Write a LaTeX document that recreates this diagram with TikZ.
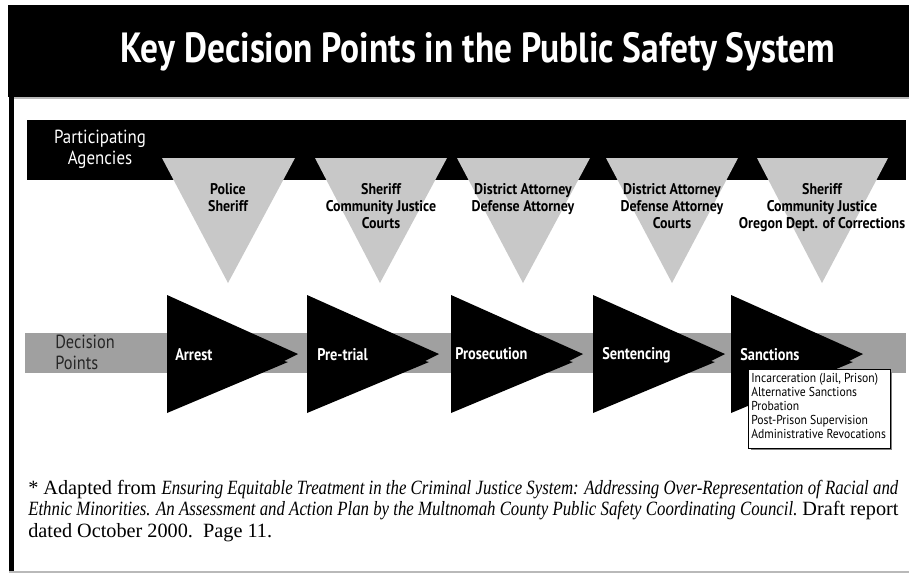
\documentclass[tikz,border=0pt]{standalone}
\usepackage{fontspec}
\usepackage{graphicx}
\setmainfont{Liberation Serif}
\newfontfamily\labelfont{PT Sans}
\usetikzlibrary{positioning}
\definecolor{agencygray}{RGB}{200,200,200}
\definecolor{bandgray}{RGB}{160,160,160}
\definecolor{framegray}{RGB}{185,185,185}
\newcommand{\squeezec}[2]{\scalebox{#1}[1]{\begin{tabular}{@{}c@{}}#2\end{tabular}}}
\newcommand{\squeezel}[2]{\scalebox{#1}[1]{\begin{tabular}{@{}l@{}}#2\end{tabular}}}
\newcommand{\condit}[1]{\scalebox{0.83}[1]{\itshape #1}}
\tikzset{
  agency/.style={fill=agencygray},
  decision/.style={fill=black},
  agencytext/.style={font=\labelfont\bfseries\fontsize{11}{12.2}\selectfont, anchor=north, inner sep=0pt},
  decisiontext/.style={font=\labelfont\bfseries\fontsize{12}{13}\selectfont, text=white, anchor=west, inner sep=0pt},
  bandtext/.style={font=\labelfont\fontsize{13.5}{14.8}\selectfont, inner sep=0pt},
}
\begin{document}
\begin{tikzpicture}[x=0.025cm,y=-0.025cm]
        \useasboundingbox (0,0) rectangle (909,575);
        % frame and title
        \fill[black] (8,5) rectangle (909,97);
        \draw[framegray, line width=1.2pt] (11,98) -- (909,98);
        \fill[black] (9,97) rectangle (14,572);
        \draw[framegray, line width=1.2pt] (9,572) -- (909,572);
        \node[font=\labelfont\bfseries\fontsize{30}{36}\selectfont, text=white] (title) at (478,52) {\scalebox{0.84}[1]{Key Decision Points in the Public Safety System}};
        % bands
        \fill[black] (27,120) rectangle (906,180);
        \node[bandtext, text=white] (agencies) at (100,150) {\squeezec{0.89}{Participating\\Agencies}};
        \fill[bandgray] (25,333) rectangle (906,373);
        \node[bandtext, anchor=west, text=black!85] (points) at (55,355) {\squeezel{0.86}{Decision\\Points}};
        % agencies
        \fill[agency] (162,158) -- (295,158) -- (228,283) -- cycle;
        \fill[agency] (315,158) -- (447,158) -- (380,283) -- cycle;
        \fill[agency] (457,158) -- (590,158) -- (523,283) -- cycle;
        \fill[agency] (606,158) -- (738,158) -- (672,283) -- cycle;
        \fill[agency] (757,158) -- (888,158) -- (822,283) -- cycle;
        \node[agencytext] (police) at (228,182) {\squeezec{0.9}{Police\\Sheriff}};
        \node[agencytext] (pretrialag) at (381,182) {\squeezec{0.9}{Sheriff\\Community Justice\\Courts}};
        \node[agencytext] (prosag) at (523,182) {\squeezec{0.9}{District Attorney\\Defense Attorney}};
        \node[agencytext] (sentag) at (672,182) {\squeezec{0.9}{District Attorney\\Defense Attorney\\Courts}};
        \node[agencytext] (sancag) at (822,182) {\squeezec{0.9}{Sheriff\\Community Justice\\Oregon Dept. of Corrections}};
        % decision points
        \fill[decision] (167,295) -- (298,354) -- (284,361) -- (288,362) -- (167,413) -- cycle;
        \fill[decision] (307,295) -- (439,354) -- (425,361) -- (429,362) -- (307,413) -- cycle;
        \fill[decision] (451,295) -- (583,354) -- (569,361) -- (573,362) -- (451,413) -- cycle;
        \fill[decision] (593,295) -- (725,354) -- (711,361) -- (715,362) -- (593,413) -- cycle;
        \fill[decision] (731,295) -- (863,354) -- (849,361) -- (853,362) -- (731,413) -- cycle;
        \node[decisiontext] (arrest) at (175,355) {\scalebox{0.85}[1]{Arrest}};
        \node[decisiontext] (pretrial) at (317,355) {\scalebox{0.85}[1]{Pre-trial}};
        \node[decisiontext] (prosecution) at (455,354) {\scalebox{0.85}[1]{Prosecution}};
        \node[decisiontext] (sentencing) at (602,355) {\scalebox{0.85}[1]{Sentencing}};
        \node[decisiontext] (sanctions) at (740,355) {\scalebox{0.85}[1]{Sanctions}};
        % sanctions list
        \fill[gray] (751,372) rectangle (892,450);
        \filldraw[fill=white, draw=black, line width=0.6pt] (748,369) rectangle (890,448);
        \node[font=\labelfont\fontsize{9.2}{9.8}\selectfont, anchor=north west, inner sep=0pt] (sanclist) at (751,373)
          {\squeezel{0.9}{Incarceration (Jail, Prison)\\Alternative Sanctions\\Probation\\Post-Prison Supervision\\Administrative Revocations}};
        % footnote
        \node[font=\fontsize{14.4}{15.2}\selectfont, align=left, anchor=north west, inner sep=0pt] (note) at (28,480)
          {* Adapted from \condit{Ensuring Equitable Treatment in the Criminal Justice System: Addressing Over-Representation of Racial and}\\
           \condit{Ethnic Minorities. An Assessment and Action Plan by the Multnomah County Public Safety Coordinating Council.} Draft report\\
           dated October 2000.\ \ Page 11.};
\end{tikzpicture}
\end{document}
